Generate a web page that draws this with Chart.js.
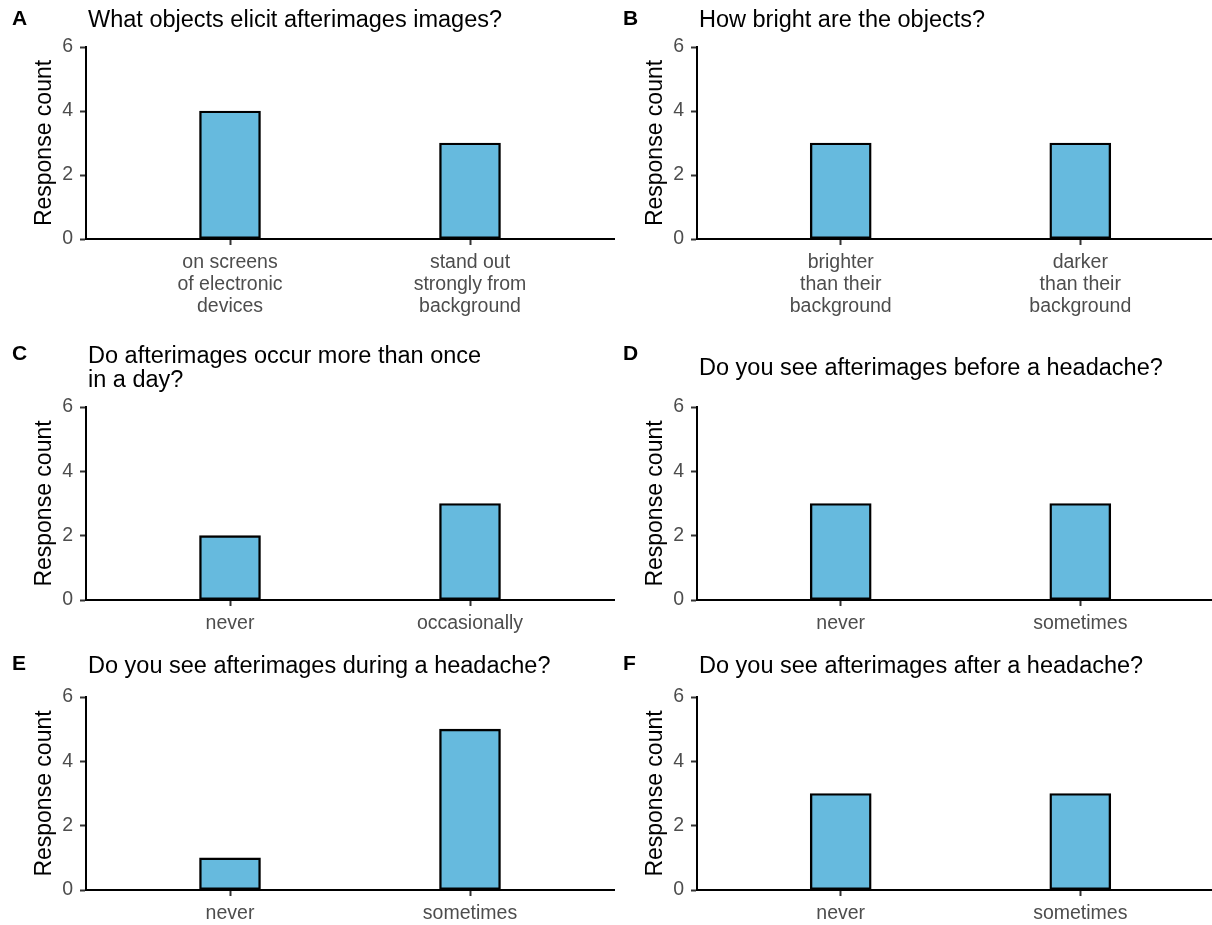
<!DOCTYPE html>
<html>
<head>
<meta charset="utf-8">
<script src="https://cdn.jsdelivr.net/npm/chart.js@4.4.0/dist/chart.umd.min.js"></script>
<style>
  html, body { margin: 0; padding: 0; background: #fff; overflow: hidden; width: 1212px; height: 925px; }
  .panel { position: absolute; }
</style>
</head>
<body>
<div class="panel" style="left:0px;top:0px;width:620px;height:325px"><canvas id="chartA"></canvas></div>
<div class="panel" style="left:606px;top:0px;width:620px;height:325px"><canvas id="chartB"></canvas></div>
<div class="panel" style="left:0px;top:325px;width:620px;height:320px"><canvas id="chartC"></canvas></div>
<div class="panel" style="left:606px;top:325px;width:620px;height:320px"><canvas id="chartD"></canvas></div>
<div class="panel" style="left:0px;top:645px;width:620px;height:280px"><canvas id="chartE"></canvas></div>
<div class="panel" style="left:606px;top:645px;width:620px;height:280px"><canvas id="chartF"></canvas></div>
<script>
/* datos de cada panel */
var titleA = ['What objects elicit afterimages images?'];
var labelsA = [['on screens', 'of electronic', 'devices'], ['stand out', 'strongly from', 'background']];
var countsA = [4, 3];

var titleB = ['How bright are the objects?'];
var labelsB = [['brighter', 'than their', 'background'], ['darker', 'than their', 'background']];
var countsB = [3, 3];

var titleC = ['Do afterimages occur more than once', 'in a day?'];
var labelsC = ['never', 'occasionally'];
var countsC = [2, 3];

var titleD = ['Do you see afterimages before a headache?'];
var labelsD = ['never', 'sometimes'];
var countsD = [3, 3];

var titleE = ['Do you see afterimages during a headache?'];
var labelsE = ['never', 'sometimes'];
var countsE = [1, 5];

var titleF = ['Do you see afterimages after a headache?'];
var labelsF = ['never', 'sometimes'];
var countsF = [3, 3];

var yTicks = [0, 2, 4, 6];

var FONT = "'Liberation Sans', Arial, sans-serif";
var BAR_FILL = '#66BADE';

/* letra y título del panel */
var panelText = {
  id: 'panelText',
  afterDraw: function(chart) {
    var o = chart.options.plugins.panelText;
    var ctx = chart.ctx;
    ctx.save();
    ctx.fillStyle = '#000';
    ctx.textBaseline = 'alphabetic';
    ctx.textAlign = 'left';
    ctx.font = 'bold 21px ' + FONT;
    ctx.fillText(o.letter, o.letterX, o.letterY);
    ctx.font = '23.5px ' + FONT;
    o.title.forEach(function(line, i) {
      ctx.fillText(line, chart.chartArea.left + 2, o.titleY + i * 24);
    });
    ctx.restore();
  }
};

function makeChart(id, letter, title, labels, counts, box) {
  return new Chart(document.getElementById(id), {
    type: 'bar',
    data: {
      datasets: [{
        data: counts.map(function(v, i) { return { x: i, y: v }; }),
        backgroundColor: BAR_FILL,
        borderColor: '#000',
        borderWidth: 2.4,
        borderSkipped: false,
        barThickness: 61
      }]
    },
    options: {
      responsive: true,
      maintainAspectRatio: false,
      animation: false,
      layout: {
        padding: { left: 0, top: box.top, right: box.right, bottom: 0 }
      },
      scales: {
        x: {
          type: 'linear',
          min: -0.6,
          max: labels.length - 0.4,
          offset: false,
          afterBuildTicks: function(axis) {
            axis.ticks = labels.map(function(_, i) { return { value: i }; });
          },
          afterFit: function(axis) { axis.height = box.xh; },
          ticks: {
            autoSkip: false,
            maxRotation: 0,
            padding: 7,
            color: '#4D4D4D',
            font: { family: FONT, size: 19.5, lineHeight: 1.13 },
            callback: function(v) { return labels[v]; }
          },
          grid: {
            offset: false,
            drawOnChartArea: false,
            drawTicks: true,
            tickLength: 6,
            tickColor: '#333',
            tickWidth: 2
          },
          border: { display: true, color: '#000', width: 2 }
        },
        y: {
          min: 0,
          max: 6,
          afterBuildTicks: function(axis) {
            axis.ticks = yTicks.map(function(v) { return { value: v }; });
          },
          afterFit: function(axis) { axis.width = box.left; },
          ticks: {
            padding: 7,
            color: '#4D4D4D',
            font: { family: FONT, size: 19.5 }
          },
          grid: {
            drawOnChartArea: false,
            drawTicks: true,
            tickLength: 6,
            tickColor: '#333',
            tickWidth: 2
          },
          border: { display: true, color: '#000', width: 2 },
          title: {
            display: true,
            text: 'Response count',
            color: '#000',
            font: { family: FONT, size: 23 },
            padding: { top: box.left - 55, bottom: 0 }
          }
        }
      },
      plugins: {
        legend: { display: false },
        tooltip: { enabled: false },
        panelText: {
          letter: letter,
          letterX: box.letterX,
          letterY: box.letterY,
          title: title,
          titleY: box.titleY
        }
      }
    },
    plugins: [panelText]
  });
}

var chartA = makeChart('chartA', 'A', titleA, labelsA, countsA,
  { left: 86, top: 47, right: 6, xh: 86, letterX: 12, letterY: 25, titleY: 27 });
var chartB = makeChart('chartB', 'B', titleB, labelsB, countsB,
  { left: 91, top: 47, right: 2, xh: 86, letterX: 17, letterY: 25, titleY: 27 });
var chartC = makeChart('chartC', 'C', titleC, labelsC, countsC,
  { left: 86, top: 82, right: 6, xh: 45, letterX: 12, letterY: 35, titleY: 38 });
var chartD = makeChart('chartD', 'D', titleD, labelsD, countsD,
  { left: 91, top: 82, right: 2, xh: 45, letterX: 17, letterY: 35, titleY: 50 });
var chartE = makeChart('chartE', 'E', titleE, labelsE, countsE,
  { left: 86, top: 52, right: 6, xh: 35, letterX: 12, letterY: 25, titleY: 28 });
var chartF = makeChart('chartF', 'F', titleF, labelsF, countsF,
  { left: 91, top: 52, right: 2, xh: 35, letterX: 17, letterY: 25, titleY: 28 });
</script>
</body>
</html>
